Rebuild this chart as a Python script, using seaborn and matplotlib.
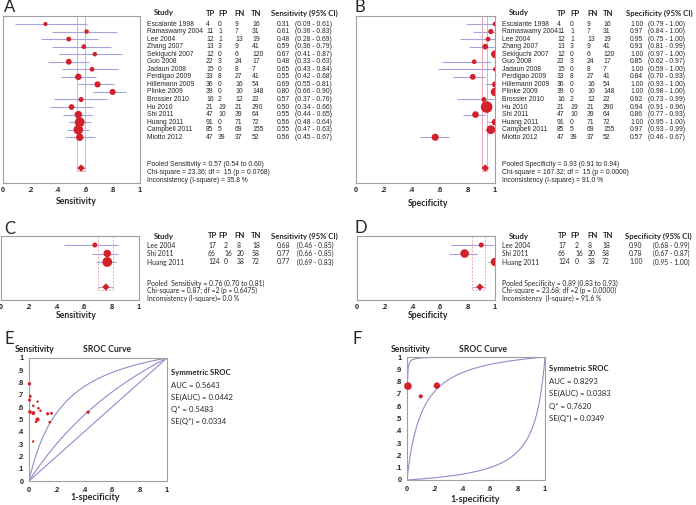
import numpy as np
import pandas as pd
import matplotlib
matplotlib.use("Agg")
import matplotlib.pyplot as plt
import seaborn as sns
from matplotlib.transforms import blended_transform_factory as btf

sns.set_style("white")
plt.rcParams['font.family'] = ['Liberation Sans', 'DejaVu Sans']

# ---------------- data ----------------
studies = ["Escalante 1998", "Ramaswamy 2004", "Lee 2004", "Zhang 2007", "Sekiguchi 2007",
           "Guo 2008", "Jadaun 2008", "Perdigao 2009", "Hillemann 2009", "Plinke 2009",
           "Brossier 2010", "Hu 2010", "Shi 2011", "Huang 2011", "Campbell 2011", "Miotto 2012"]
tp = [4, 11, 12, 13, 12, 22, 15, 33, 36, 39, 16, 21, 47, 91, 85, 47]
fp = [0, 1, 1, 3, 0, 3, 0, 8, 0, 0, 2, 19, 10, 0, 5, 39]
fn = [9, 7, 13, 9, 6, 24, 8, 27, 16, 10, 12, 21, 39, 71, 69, 37]
tn = [16, 31, 19, 41, 120, 17, 7, 41, 54, 148, 22, 290, 64, 72, 155, 52]
sens = [0.31, 0.61, 0.48, 0.59, 0.67, 0.48, 0.65, 0.55, 0.69, 0.80, 0.57, 0.50, 0.55, 0.56, 0.55, 0.56]
sens_lo = [0.09, 0.36, 0.28, 0.36, 0.41, 0.33, 0.43, 0.42, 0.55, 0.66, 0.37, 0.34, 0.44, 0.48, 0.47, 0.45]
sens_hi = [0.61, 0.83, 0.69, 0.79, 0.87, 0.63, 0.84, 0.68, 0.81, 0.90, 0.76, 0.66, 0.65, 0.64, 0.63, 0.67]
spec = [1.00, 0.97, 0.95, 0.93, 1.00, 0.85, 1.00, 0.84, 1.00, 1.00, 0.92, 0.94, 0.86, 1.00, 0.97, 0.57]
spec_lo = [0.79, 0.84, 0.75, 0.81, 0.97, 0.62, 0.59, 0.70, 0.93, 0.98, 0.73, 0.91, 0.77, 0.95, 0.93, 0.46]
spec_hi = [1.00, 1.00, 1.00, 0.99, 1.00, 0.97, 1.00, 0.93, 1.00, 1.00, 0.99, 0.96, 0.93, 1.00, 0.99, 0.67]
pooled_sens = (0.57, 0.54, 0.60)
pooled_spec = (0.93, 0.91, 0.94)
stats_A = ["Pooled Sensitivity = 0.57 (0.54 to 0.60)",
           "Chi-square = 23.36; df =  15 (p = 0.0768)",
           "Inconsistency (I-square) = 35.8 %"]
stats_B = ["Pooled Specificity = 0.93 (0.91 to 0.94)",
           "Chi-square = 167.32; df =  15 (p = 0.0000)",
           "Inconsistency (I-square) = 91.0 %"]

studies2 = ["Lee 2004", "Shi 2011", "Huang 2011"]
tp2 = [17, 66, 124]
fp2 = [2, 16, 0]
fn2 = [8, 20, 38]
tn2 = [18, 58, 72]
sens2 = [0.68, 0.77, 0.77]
sens2_lo = [0.46, 0.66, 0.69]
sens2_hi = [0.85, 0.85, 0.83]
spec2 = [0.90, 0.78, 1.00]
spec2_lo = [0.68, 0.67, 0.95]
spec2_hi = [0.99, 0.87, 1.00]
pooled_sens2 = (0.76, 0.70, 0.81)
pooled_spec2 = (0.89, 0.83, 0.93)
stats_C = ["Pooled  Sensitivity = 0.76 (0.70 to 0.81)",
           "Chi-square = 0.87; df =2 (p = 0.6475)",
           "Inconsistency (I-square)= 0.0 %"]
stats_D = ["Pooled Specificity = 0.89 (0.83 to 0.93)",
           "Chi-square = 23.68; df =2 (p = 0.0000)",
           "Inconsistency  (I-square) = 91.6 %"]

sroc_E = ["Symmetric SROC", "AUC = 0.5643", "SE(AUC) = 0.0442", "Q* = 0.5483", "SE(Q*) = 0.0334"]
sroc_F = ["Symmetric SROC", "AUC = 0.8293", "SE(AUC) = 0.0383", "Q* = 0.7620", "SE(Q*) = 0.0349"]
curves_E = [0.0, 0.55, 1.6]       # logit shifts of the drawn SROC curves
curves_F = [-2.6, 2.33, 7.0]

ticks = [0, 0.2, 0.4, 0.6, 0.8, 1.0]
tick_labels = ["0", ".2", ".4", ".6", ".8", "1"]
yticks_sroc = [0, .1, .2, .3, .4, .5, .6, .7, .8, .9, 1]
ytick_labels_sroc = ["0", ".1", ".2", ".3", ".4", ".5", ".6", ".7", ".8", ".9", "1"]

# ---------------- style ----------------
RED = "#d3212b"
LAV = "#a7a3dc"
PINK = "#f4a6b8"
CURVE = "#8f8dc8"
FRAME = "#a0a0a0"
W, H = 696, 505
HEAD = ['Lato', 'DejaVu Sans']
BODY = ['Liberation Sans', 'DejaVu Sans']
TICKF = ['Liberation Sans', 'DejaVu Sans']

fig = plt.figure(figsize=(W / 100, H / 100), dpi=100)


def rect(x0, y0, x1, y1):
    return [x0 / W, 1 - y1 / H, (x1 - x0) / W, (y1 - y0) / H]


def ftxt(x, y, s, **kw):
    fig.text(x / W, 1 - y / H, s, **kw)


def frame(ax):
    for sp in ax.spines.values():
        sp.set_color(FRAME)
        sp.set_linewidth(0.8)


def forest(box_px, row0, step, pooled_px, est, lo, hi, weights, pooled, dashed,
           smin, smax, xlabel, xlabel_xy, names, cols, counts, vals_col,
           head_px, head_labels, stats, stats_xy, stats_step, body_font, body_size, letter, letter_xy):
    x0, y0, x1, y1 = box_px
    ax = fig.add_axes(rect(x0, y0, x1, y1))
    n = len(est)
    rows = np.arange(n)
    pidx = (pooled_px - row0) / step
    ax.set_xlim(0, 1)
    ax.set_ylim((y1 - row0) / step, (y0 - row0) / step)
    ls = (0, (2, 1.5)) if dashed else "-"
    ax.vlines([pooled[1], pooled[2]], (y0 - row0) / step, pidx + 0.35, color=PINK, lw=0.7, ls=ls, zorder=1)
    ax.hlines(pidx + 0.35, pooled[1], pooled[2], color=PINK, lw=0.7, ls=ls, zorder=1)
    ax.hlines(rows, lo, hi, color=LAV, lw=0.8, zorder=2)
    df = pd.DataFrame({"x": est, "y": rows, "w": weights})
    sns.scatterplot(data=df, x="x", y="y", size="w", sizes=(smin, smax), color=RED,
                    edgecolor="none", legend=False, ax=ax, zorder=3)
    ax.hlines(pidx, pooled[1], pooled[2], color=LAV, lw=0.8, zorder=2)
    ax.scatter([pooled[0]], [pidx], marker="D", s=14, color=RED, edgecolor="none", zorder=3)
    ax.set_xticks(ticks)
    ax.set_xticklabels(tick_labels, fontfamily=TICKF, fontweight="bold", fontsize=5.3)
    ax.tick_params(axis="x", length=0, pad=3)
    ax.set_yticks([])
    ax.set_xlabel("")
    ax.set_ylabel("")
    frame(ax)
    ftxt(xlabel_xy[0], xlabel_xy[1], xlabel, family=HEAD, fontweight="bold", fontsize=6.3,
         ha="center", va="center")
    tr = btf(fig.transFigure, ax.transData)
    hidx = (head_px - row0) / step
    for (hx, lab) in zip(cols["head"], head_labels):
        ax.text(hx / W, hidx, lab, transform=tr, family=HEAD, fontweight="bold", fontsize=5.6,
                ha="left", va="center")
    for i in range(n):
        ax.text(cols["name"] / W, i, names[i], transform=tr, family=body_font, fontsize=body_size,
                ha="left", va="center")
        for cx, arr in zip(cols["counts"], counts):
            ax.text(cx / W, i, str(arr[i]), transform=tr, family=body_font, fontsize=body_size,
                    ha="left", va="center")
        ax.text(cols["val"] / W, i, f"{vals_col[0][i]:.2f}", transform=tr, family=body_font,
                fontsize=body_size, ha="left", va="center")
        ax.text(cols["ci"] / W, i, f"({vals_col[1][i]:.2f} - {vals_col[2][i]:.2f})", transform=tr,
                family=body_font, fontsize=body_size, ha="left", va="center")
    for k, s in enumerate(stats):
        ftxt(stats_xy[0], stats_xy[1] + k * stats_step, s, family=body_font, fontsize=body_size,
             ha="left", va="center")
    ftxt(letter_xy[0], letter_xy[1], letter, family=HEAD, fontsize=12, ha="left", va="center")
    return ax


colsA = {"head": [154, 206, 218, 234, 251, 271], "name": 147, "counts": [206, 218, 235, 252], "val": 277, "ci": 295}
colsB = {"head": [509, 557, 570, 587, 603, 626], "name": 502, "counts": [557, 570, 587, 603], "val": 630, "ci": 648}
colsC = {"head": [154, 208, 218, 234, 251, 271], "name": 147, "counts": [208, 224, 237, 252], "val": 277, "ci": 297}
colsD = {"head": [509, 558, 570, 587, 603, 625], "name": 502, "counts": [558, 575, 588, 602], "val": 629, "ci": 653}

w_sensA = [a + b for a, b in zip(tp, fn)]
w_specB = [a + b for a, b in zip(fp, tn)]
w_sensC = [a + b for a, b in zip(tp2, fn2)]
w_specD = [a + b for a, b in zip(fp2, tn2)]

forest((3, 16, 140, 183), 24, 7.55, 168, sens, sens_lo, sens_hi, w_sensA, pooled_sens, False,
       9, 50, "Sensitivity", (76, 202), studies, colsA, [tp, fp, fn, tn], (sens, sens_lo, sens_hi),
       13, ["Study", "TP", "FP", "FN", "TN", "Sensitivity (95% CI)"], stats_A, (147, 164), 8.5,
       BODY, 4.9, "A", (4, 7))
forest((356, 16, 495, 183), 24, 7.55, 168, spec, spec_lo, spec_hi, w_specB, pooled_spec, False,
       9, 70, "Specificity", (428, 203), studies, colsB, [tp, fp, fn, tn], (spec, spec_lo, spec_hi),
       13, ["Study", "TP", "FP", "FN", "TN", "Specificity (95% CI)"], stats_B, (502, 164), 8.5,
       BODY, 4.9, "B", (354, 7))
forest((1, 236, 139, 300), 245, 8.5, 287, sens2, sens2_lo, sens2_hi, w_sensC, pooled_sens2, True,
       13, 50, "Sensitivity", (76, 315), studies2, colsC, [tp2, fp2, fn2, tn2], (sens2, sens2_lo, sens2_hi),
       236, ["Study", "TP", "FP", "FN", "TN", "Sensitivity (95% CI)"], stats_C, (147, 283), 7.7,
       HEAD, 4.9, "C", (4, 229))
forest((357, 236, 495, 300), 245, 8.5, 287, spec2, spec2_lo, spec2_hi, w_specD, pooled_spec2, True,
       13, 38, "Specificity", (428, 316), studies2, colsD, [tp2, fp2, fn2, tn2], (spec2, spec2_lo, spec2_hi),
       236, ["Study", "TP", "FP", "FN", "TN", "Specificity (95% CI)"], stats_D, (502, 283), 7.7,
       HEAD, 4.9, "D", (354, 228))


def sroc(box_px, a_tp, a_fp, a_fn, a_tn, smin, smax, curves, info, info_xy, info_step,
         sens_xy, title_xy, xlab_xy, letter, letter_xy):
    x0, y0, x1, y1 = box_px
    ax = fig.add_axes(rect(x0, y0, x1, y1))
    t = np.array(a_tp, float); f = np.array(a_fp, float)
    n_ = np.array(a_fn, float); g = np.array(a_tn, float)
    zero = (t == 0) | (f == 0) | (n_ == 0) | (g == 0)
    c = np.where(zero, 0.5, 0.0)
    tpr = (t + c) / (t + n_ + 2 * c)
    fpr = (f + c) / (f + g + 2 * c)
    xs = np.linspace(1e-5, 1 - 1e-5, 800)
    for a in curves:
        ys = 1 / (1 + np.exp(-(np.log(xs / (1 - xs)) + a)))
        ax.plot(np.r_[0, xs, 1], np.r_[0, ys, 1], color=CURVE, lw=0.8, zorder=1)
    df = pd.DataFrame({"x": fpr, "y": tpr, "w": t + n_ + f + g})
    sns.scatterplot(data=df, x="x", y="y", size="w", sizes=(smin, smax), color=RED,
                    edgecolor="none", legend=False, ax=ax, zorder=3, clip_on=False)
    ax.set_xlim(0, 1)
    ax.set_ylim(0, 1)
    ax.set_xticks(ticks)
    ax.set_xticklabels(tick_labels, fontfamily=TICKF, fontweight="bold", fontsize=5.3)
    ax.set_yticks(yticks_sroc)
    ax.set_yticklabels(ytick_labels_sroc, fontfamily=TICKF, fontweight="bold", fontsize=5.3)
    ax.tick_params(length=0, pad=4)
    ax.set_xlabel("")
    ax.set_ylabel("")
    frame(ax)
    ftxt(sens_xy[0], sens_xy[1], "Sensitivity", family=HEAD, fontweight="bold", fontsize=6.2,
         ha="left", va="center")
    ftxt(title_xy[0], title_xy[1], "SROC Curve", family=HEAD, fontweight="bold", fontsize=6.2,
         ha="center", va="center")
    ftxt(xlab_xy[0], xlab_xy[1], "1-specificity", family=HEAD, fontweight="bold", fontsize=6.5,
         ha="center", va="center")
    for k, s in enumerate(info):
        ftxt(info_xy[0], info_xy[1] + k * info_step, s, family=HEAD,
             fontweight="bold" if k == 0 else "normal", fontsize=5.6, ha="left", va="center")
    ftxt(letter_xy[0], letter_xy[1], letter, family=HEAD, fontsize=12, ha="left", va="center")


sroc((29, 358, 167, 481), tp, fp, fn, tn, 3, 9, curves_E, sroc_E, (171, 373), 12.1,
     (15, 350), (107, 350), (95, 498), "E", (4, 339))
sroc((407, 357, 545, 480), tp2, fp2, fn2, tn2, 9, 30, curves_F, sroc_F, (549, 369), 12.4,
     (391, 350), (483, 350), (475, 500), "F", (352, 339))

fig.savefig("out.png", dpi=100)
